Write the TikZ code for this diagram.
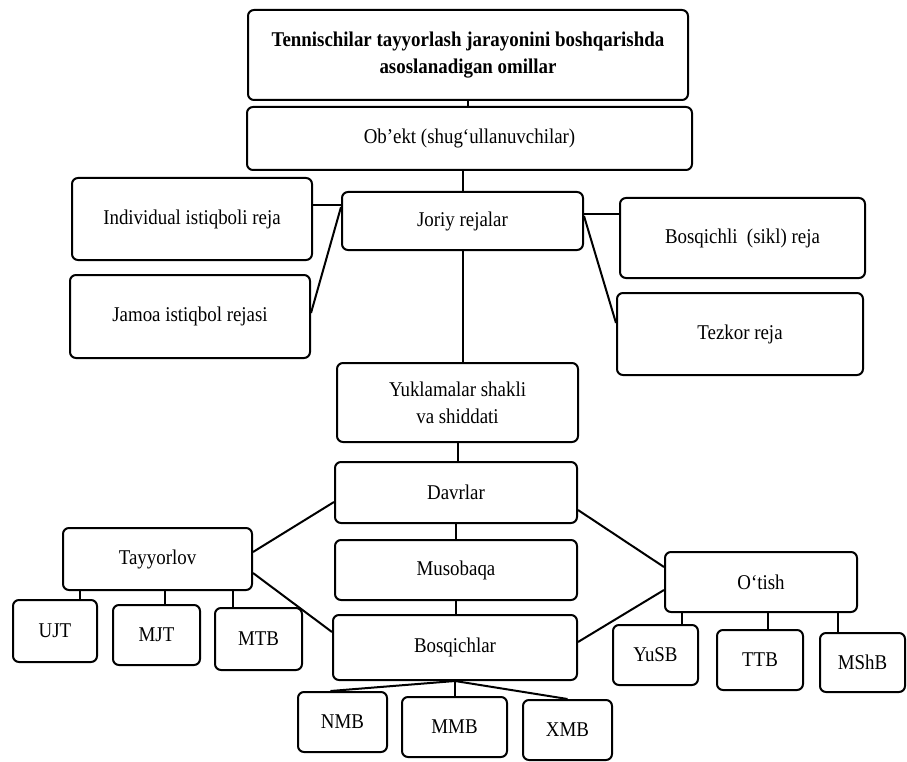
\documentclass[tikz,border=0pt]{standalone}
\usepackage{fontspec}
\setmainfont[FakeStretch=0.9]{Liberation Serif}
\begin{document}
\begin{tikzpicture}[x=1pt,y=-1pt,
  box/.style={draw, line width=2pt, rounded corners=6pt, align=center,
    font=\fontsize{21}{27}\selectfont, inner sep=0pt},
  sz/.style 2 args={minimum width=#1, minimum height=#2},
  conn/.style={line width=2pt}]
\useasboundingbox[fill=white] (0,0) rectangle (907,762);

% boxes
\node[box, sz={440pt}{90pt}, font=\bfseries\fontsize{21}{27}\selectfont] (title) at (468,55)
  {Tennischilar tayyorlash jarayonini boshqarishda\\asoslanadigan omillar};
\node[box, sz={445pt}{63pt}] (obekt) at (469.5,138.5) {Ob’ekt (shug‘ullanuvchilar)};
\node[box, sz={241pt}{58pt}] (joriy) at (462.5,221) {Joriy rejalar};
\node[box, sz={240pt}{82pt}] (indiv) at (192,219) {Individual istiqboli reja};
\node[box, sz={240pt}{83pt}] (jamoa) at (190,316.5) {Jamoa istiqbol rejasi};
\node[box, sz={245pt}{80pt}] (bosq1) at (742.5,238) {Bosqichli\ \ (sikl) reja};
\node[box, sz={246pt}{82pt}] (tezkor) at (740,334) {Tezkor reja};
\node[box, sz={241pt}{79pt}] (yuk) at (457.5,402.5) {Yuklamalar shakli\\va shiddati};
\node[box, sz={242pt}{61pt}] (davr) at (456,492.5) {Davrlar};
\node[box, sz={242pt}{60pt}] (muso) at (456,570) {Musobaqa};
\node[box, sz={244pt}{65pt}] (bosq) at (455,647.5) {Bosqichlar};
\node[box, sz={189pt}{62pt}] (tayy) at (157.5,559) {Tayyorlov};
\node[box, sz={84pt}{62pt}] (ujt) at (55,631) {UJT};
\node[box, sz={87pt}{60pt}] (mjt) at (156.5,635) {MJT};
\node[box, sz={87pt}{62pt}] (mtb) at (258.5,639) {MTB};
\node[box, sz={192pt}{60pt}] (otish) at (761,582) {O‘tish};
\node[box, sz={85pt}{60pt}] (yusb) at (655.5,655) {YuSB};
\node[box, sz={86pt}{60pt}] (ttb) at (760,660) {TTB};
\node[box, sz={85pt}{59pt}] (mshb) at (862.5,662.5) {MShB};
\node[box, sz={89pt}{60pt}] (nmb) at (342.5,722) {NMB};
\node[box, sz={105pt}{60pt}] (mmb) at (454.5,727) {MMB};
\node[box, sz={89pt}{60pt}] (xmb) at (567.5,730) {XMB};

% vertical spine
\draw[conn] (title.south) -- (title.south |- obekt.north);
\draw[conn] (joriy.north) -- (joriy.north |- obekt.south);
\draw[conn] (joriy.south) -- (joriy.south |- yuk.north);
\draw[conn] (yuk.south) -- (yuk.south |- davr.north);
\draw[conn] (davr.south) -- (davr.south |- muso.north);
\draw[conn] (muso.south) -- (muso.south |- bosq.north);

% plans
\draw[conn] ([yshift=16pt]joriy.west) -- ([yshift=14pt]indiv.east);
\draw[conn] ([yshift=14pt]joriy.west) -- ([yshift=3.5pt]jamoa.east);
\draw[conn] ([yshift=7pt]joriy.east) -- ([yshift=24pt]bosq1.west);
\draw[conn] ([yshift=5pt]joriy.east) -- ([yshift=11pt]tezkor.west);

% periods
\draw[conn] ([yshift=7pt]tayy.east) -- ([yshift=-9.5pt]davr.west);
\draw[conn] ([yshift=-14pt]tayy.east) -- ([yshift=15.5pt]bosq.west);
\draw[conn] ([yshift=-17.5pt]davr.east) -- ([yshift=15pt]otish.west);
\draw[conn] ([yshift=5.5pt]bosq.east) -- ([yshift=-8pt]otish.west);

% Tayyorlov children
\coordinate (c1) at ([xshift=25pt]ujt.north);
\coordinate (c2) at ([xshift=8.5pt]mjt.north);
\coordinate (c3) at ([xshift=-25.5pt]mtb.north);
\draw[conn] (c1) -- (c1 |- tayy.south);
\draw[conn] (c2) -- (c2 |- tayy.south);
\draw[conn] (c3) -- (c3 |- tayy.south);

% O'tish children
\coordinate (d1) at ([xshift=26.5pt]yusb.north);
\coordinate (d2) at ([xshift=8pt]ttb.north);
\coordinate (d3) at ([xshift=-24.5pt]mshb.north);
\draw[conn] (d1) -- (d1 |- otish.south);
\draw[conn] (d2) -- (d2 |- otish.south);
\draw[conn] (d3) -- (d3 |- otish.south);

% Bosqichlar children
\draw[conn] (bosq.south) -- ([xshift=-12pt]nmb.north);
\draw[conn] (bosq.south) -- (bosq.south |- mmb.north);
\draw[conn] (bosq.south) -- (xmb.north);
\end{tikzpicture}
\end{document}
